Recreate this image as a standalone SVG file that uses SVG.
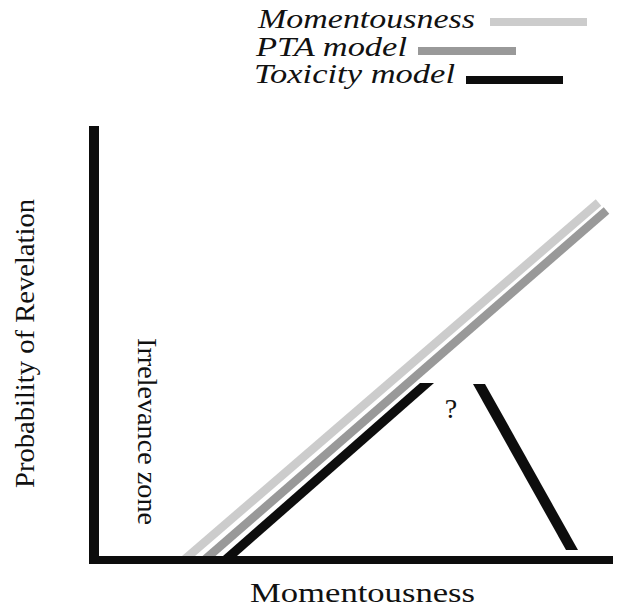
<svg xmlns="http://www.w3.org/2000/svg" width="617" height="607" viewBox="0 0 617 607">
<style>
.t{font-family:"Liberation Serif","Times New Roman",serif;fill:#111;}
.it{font-size:27px;font-style:italic;}
.lbl{font-size:28px;}
</style>
<rect width="617" height="607" fill="#fff"/>
<g id="legend">
<text class="t it" x="258" y="28" textLength="217" lengthAdjust="spacingAndGlyphs">Momentousness</text>
<rect x="490" y="18" width="97" height="8" fill="#cccccc"/>
<text class="t it" x="256" y="55.5" textLength="151" lengthAdjust="spacingAndGlyphs">PTA model</text>
<rect x="418" y="47" width="98" height="8" fill="#999999"/>
<text class="t it" x="254" y="83" textLength="201" lengthAdjust="spacingAndGlyphs">Toxicity model</text>
<rect x="466" y="76" width="97" height="8" fill="#0d0d0d"/>
</g>
<g id="connectors">
<line x1="183.9" y1="560" x2="598.5" y2="202.5" stroke="#cccccc" stroke-width="8.5"/>
<line x1="204.4" y1="560" x2="606.5" y2="210.5" stroke="#999999" stroke-width="8.5"/>
<polygon points="420,383 434,383 237,556 223,556" fill="#0d0d0d"/>
<polygon points="473,384 485,384 578,550 566,550" fill="#0d0d0d"/>
</g>
<g id="axes">
<rect x="89" y="126" width="10" height="438" fill="#0d0d0d"/>
<rect x="89" y="556" width="524" height="8" fill="#0d0d0d"/>
</g>
<g id="labels">
<text class="t lbl" transform="translate(34,488) rotate(-90)" textLength="289" lengthAdjust="spacingAndGlyphs">Probability of Revelation</text>
<text class="t lbl" transform="translate(138,338) rotate(90)" textLength="187" lengthAdjust="spacingAndGlyphs">Irrelevance zone</text>
<text class="t lbl" x="250" y="602" textLength="225" lengthAdjust="spacingAndGlyphs">Momentousness</text>
<text class="t" x="451" y="418" font-size="28" text-anchor="middle">?</text>
</g>
</svg>
